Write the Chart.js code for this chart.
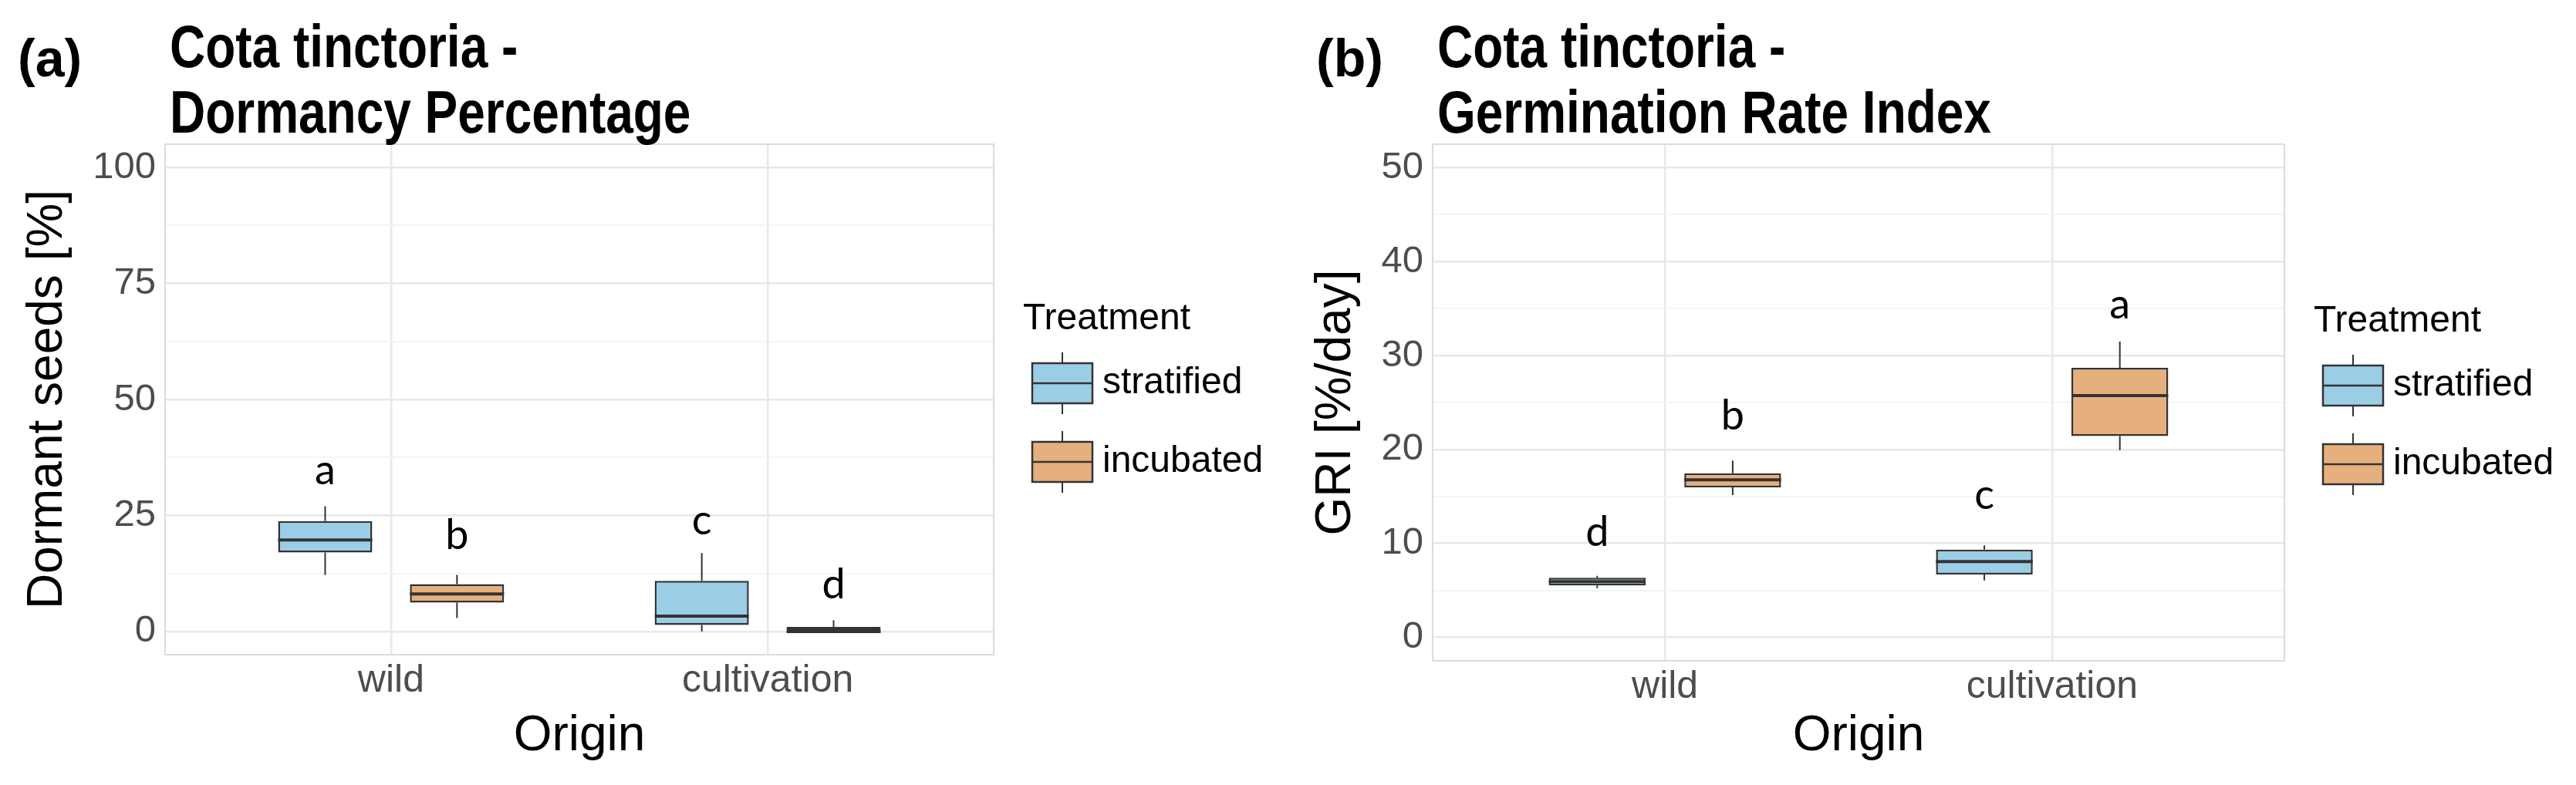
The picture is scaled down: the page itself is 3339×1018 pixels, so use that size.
<!DOCTYPE html>
<html>
<head>
<meta charset="utf-8">
<script src="https://cdn.jsdelivr.net/npm/chart.js@4.4.1/dist/chart.umd.min.js"></script>
<style>
  html, body { margin: 0; padding: 0; background: #fff; }
  #wrap { position: relative; width: 3339px; height: 1018px; }
  .panel { position: absolute; top: 0; height: 1018px; }
</style>
</head>
<body>
<div id="wrap">
  <div class="panel" style="left:0;width:1670px"><canvas id="dormancy"></canvas></div>
  <div class="panel" style="left:1670px;width:1669px"><canvas id="gri"></canvas></div>
</div>
<script>
const origins = ['wild', 'cultivation'];
const treatments = ['stratified', 'incubated'];
const treatmentColors = ['#9ccde6', '#e5b07d'];
const legendTitle = 'Treatment';
const xTitle = 'Origin';

// per origin: [lower whisker, Q1, median, Q3, upper whisker]
const dormancyStratified = [[12.2, 17.0, 19.7, 23.8, 27.0], [0, 1.4, 3.3, 10.9, 16.9]];
const dormancyIncubated = [[2.9, 6.2, 8.1, 10.2, 12.2], [0, 0, 0, 1.0, 2.4]];
const dormancyLettersStratified = ['a', 'c'];
const dormancyLettersIncubated = ['b', 'd'];
const dormancyLetterYStratified = [31.7, 21.0];
const dormancyLetterYIncubated = [17.7, 7.1];
const dormancyTicks = [0, 25, 50, 75, 100];

const griStratified = [[5.24, 5.52, 5.93, 6.34, 6.56], [6.06, 6.70, 8.07, 9.35, 9.79]];
const griIncubated = [[15.14, 15.96, 16.78, 17.46, 18.83], [19.93, 21.43, 25.74, 28.69, 31.49]];
const griLettersStratified = ['d', 'c'];
const griLettersIncubated = ['b', 'a'];
const griLetterYStratified = [9.71, 13.68];
const griLetterYIncubated = [22.12, 33.95];
const griTicks = [0, 10, 20, 30, 40, 50];

const FONT = '"Liberation Sans", Arial, sans-serif';
Chart.defaults.font.family = FONT;

function boxDataset(i, stats, letters, letterY) {
    return {
        label: treatments[i],
        data: stats.map((s, k) => ({ x: k + 1, y: [s[1], s[3]] })),
        stats: stats,
        letters: letters,
        letterY: letterY,
        backgroundColor: treatmentColors[i],
        borderColor: '#333333',
        borderWidth: 2.5,
        borderSkipped: false,
        categoryPercentage: 0.7,
        barPercentage: 0.714
    };
}

// whiskers, medians and the letters above each box
const boxPlot = {
    id: 'boxPlot',
    afterDatasetsDraw(chart) {
        const ctx = chart.ctx;
        const y = chart.scales.y;
        chart.data.datasets.forEach((ds, di) => {
            chart.getDatasetMeta(di).data.forEach((bar, i) => {
                const p = bar.getProps(['x', 'width'], true);
                const s = ds.stats[i];
                ctx.save();
                ctx.strokeStyle = '#333333';
                ctx.lineWidth = 2;
                ctx.beginPath();
                ctx.moveTo(p.x, y.getPixelForValue(s[0]));
                ctx.lineTo(p.x, y.getPixelForValue(s[1]));
                ctx.moveTo(p.x, y.getPixelForValue(s[3]));
                ctx.lineTo(p.x, y.getPixelForValue(s[4]));
                ctx.stroke();
                const m = y.getPixelForValue(s[2]);
                ctx.lineWidth = 4;
                ctx.beginPath();
                ctx.moveTo(p.x - p.width / 2, m);
                ctx.lineTo(p.x + p.width / 2, m);
                ctx.stroke();
                ctx.fillStyle = '#000';
                ctx.font = '54px Lato';
                ctx.textAlign = 'center';
                ctx.textBaseline = 'alphabetic';
                ctx.fillText(ds.letters[i], p.x, y.getPixelForValue(ds.letterY[i]));
                ctx.restore();
            });
        });
    }
};

// panel border, tag, title and legend
const panelDecor = {
    id: 'panelDecor',
    afterDraw(chart, args, opts) {
        const ctx = chart.ctx;
        const a = chart.chartArea;
        ctx.save();
        ctx.strokeStyle = '#dcdcdc';
        ctx.lineWidth = 2;
        ctx.strokeRect(a.left, a.top, a.right - a.left, a.bottom - a.top);

        ctx.fillStyle = '#000';
        ctx.textAlign = 'left';
        ctx.textBaseline = 'alphabetic';
        ctx.font = 'bold 68px ' + FONT;
        ctx.fillText(opts.tag, opts.tagX, 99);

        ctx.font = 'bold 78px ' + FONT;
        opts.title.forEach((line, i) => {
            ctx.save();
            ctx.translate(a.left + 6, opts.titleY[i]);
            ctx.scale(0.82, 1);
            ctx.fillText(line, 0, 0);
            ctx.restore();
        });

        const t = opts.legendTop;
        const kx = a.right + 50;
        ctx.font = '48px ' + FONT;
        ctx.fillText(legendTitle, a.right + 38, t);
        chart.data.datasets.forEach((ds, i) => {
            const cy = t + 70 + i * 102;
            ctx.strokeStyle = '#333333';
            ctx.lineWidth = 2;
            ctx.beginPath();
            ctx.moveTo(kx + 39, cy - 40);
            ctx.lineTo(kx + 39, cy - 26);
            ctx.moveTo(kx + 39, cy + 26);
            ctx.lineTo(kx + 39, cy + 40);
            ctx.stroke();
            ctx.fillStyle = ds.backgroundColor;
            ctx.fillRect(kx, cy - 26, 78, 52);
            ctx.lineWidth = 2.5;
            ctx.strokeRect(kx, cy - 26, 78, 52);
            ctx.beginPath();
            ctx.moveTo(kx, cy);
            ctx.lineTo(kx + 78, cy);
            ctx.stroke();
            ctx.fillStyle = '#000';
            ctx.textBaseline = 'middle';
            ctx.fillText(ds.label, a.right + 141, cy);
            ctx.textBaseline = 'alphabetic';
        });
        ctx.restore();
    }
};

function makePanel(id, p) {
    const minorTicks = [];
    const half = (p.ticks[1] - p.ticks[0]) / 2;
    for (let v = p.ticks[0]; v <= p.ticks[p.ticks.length - 1] + 0.001; v += half) minorTicks.push(v);
    const isMajor = v => p.ticks.includes(v);
    const pad = (p.ticks[p.ticks.length - 1] - p.ticks[0]) * 0.05;

    new Chart(document.getElementById(id), {
        type: 'bar',
        data: {
            datasets: [
                boxDataset(0, p.stratified, p.lettersS, p.letterYS),
                boxDataset(1, p.incubated, p.lettersI, p.letterYI)
            ]
        },
        options: {
            responsive: true,
            maintainAspectRatio: false,
            devicePixelRatio: 1,
            animation: false,
            events: [],
            layout: { padding: { top: 187, right: p.right, left: 0, bottom: 0 } },
            plugins: {
                legend: { display: false },
                tooltip: { enabled: false },
                panelDecor: {
                    tag: p.tag, tagX: p.tagX, title: p.title,
                    titleY: [87, 172], legendTop: p.legendTop
                }
            },
            scales: {
                x: {
                    type: 'linear',
                    min: 0.4,
                    max: 2.6,
                    offset: false,
                    afterBuildTicks: s => { s.ticks = origins.map((o, i) => ({ value: i + 1 })); },
                    afterFit: s => { s.height = p.xHeight; },
                    ticks: {
                        callback: (v, i) => origins[i],
                        font: { size: 50 },
                        color: '#4d4d4d',
                        padding: 4,
                        autoSkip: false,
                        maxRotation: 0
                    },
                    grid: { color: '#e8e8e8', lineWidth: 2.5, drawTicks: false, offset: false },
                    border: { display: false },
                    title: {
                        display: true, text: xTitle, color: '#000',
                        font: { size: 64 }, padding: { top: 0, bottom: 24 }
                    }
                },
                y: {
                    min: p.ticks[0] - pad,
                    max: p.ticks[p.ticks.length - 1] + pad,
                    afterBuildTicks: s => { s.ticks = minorTicks.map(v => ({ value: v })); },
                    afterFit: s => { s.width = p.yWidth; },
                    ticks: {
                        callback: v => isMajor(v) ? String(v) : '',
                        font: { size: 49 },
                        color: '#4d4d4d',
                        padding: 12,
                        autoSkip: false
                    },
                    grid: {
                        color: c => c.tick && isMajor(c.tick.value) ? '#e8e8e8' : '#f3f3f3',
                        lineWidth: c => c.tick && isMajor(c.tick.value) ? 2.5 : 1.8,
                        drawTicks: false
                    },
                    border: { display: false },
                    title: {
                        display: true, text: p.yTitle, color: '#000',
                        font: { size: 64 }, padding: { top: 24, bottom: 0 }
                    }
                }
            }
        },
        plugins: [boxPlot, panelDecor]
    });
}

makePanel('dormancy', {
    stratified: dormancyStratified, incubated: dormancyIncubated,
    lettersS: dormancyLettersStratified, lettersI: dormancyLettersIncubated,
    letterYS: dormancyLetterYStratified, letterYI: dormancyLetterYIncubated,
    ticks: dormancyTicks,
    yTitle: 'Dormant seeds [%]',
    tag: '(a)', tagX: 23,
    title: ['Cota tinctoria -', 'Dormancy Percentage'],
    right: 382, yWidth: 214, xHeight: 169, legendTop: 427
});

makePanel('gri', {
    stratified: griStratified, incubated: griIncubated,
    lettersS: griLettersStratified, lettersI: griLettersIncubated,
    letterYS: griLetterYStratified, letterYI: griLetterYIncubated,
    ticks: griTicks,
    yTitle: 'GRI [%/day]',
    tag: '(b)', tagX: 36,
    title: ['Cota tinctoria -', 'Germination Rate Index'],
    right: 378, yWidth: 187, xHeight: 161, legendTop: 430
});
</script>
</body>
</html>
